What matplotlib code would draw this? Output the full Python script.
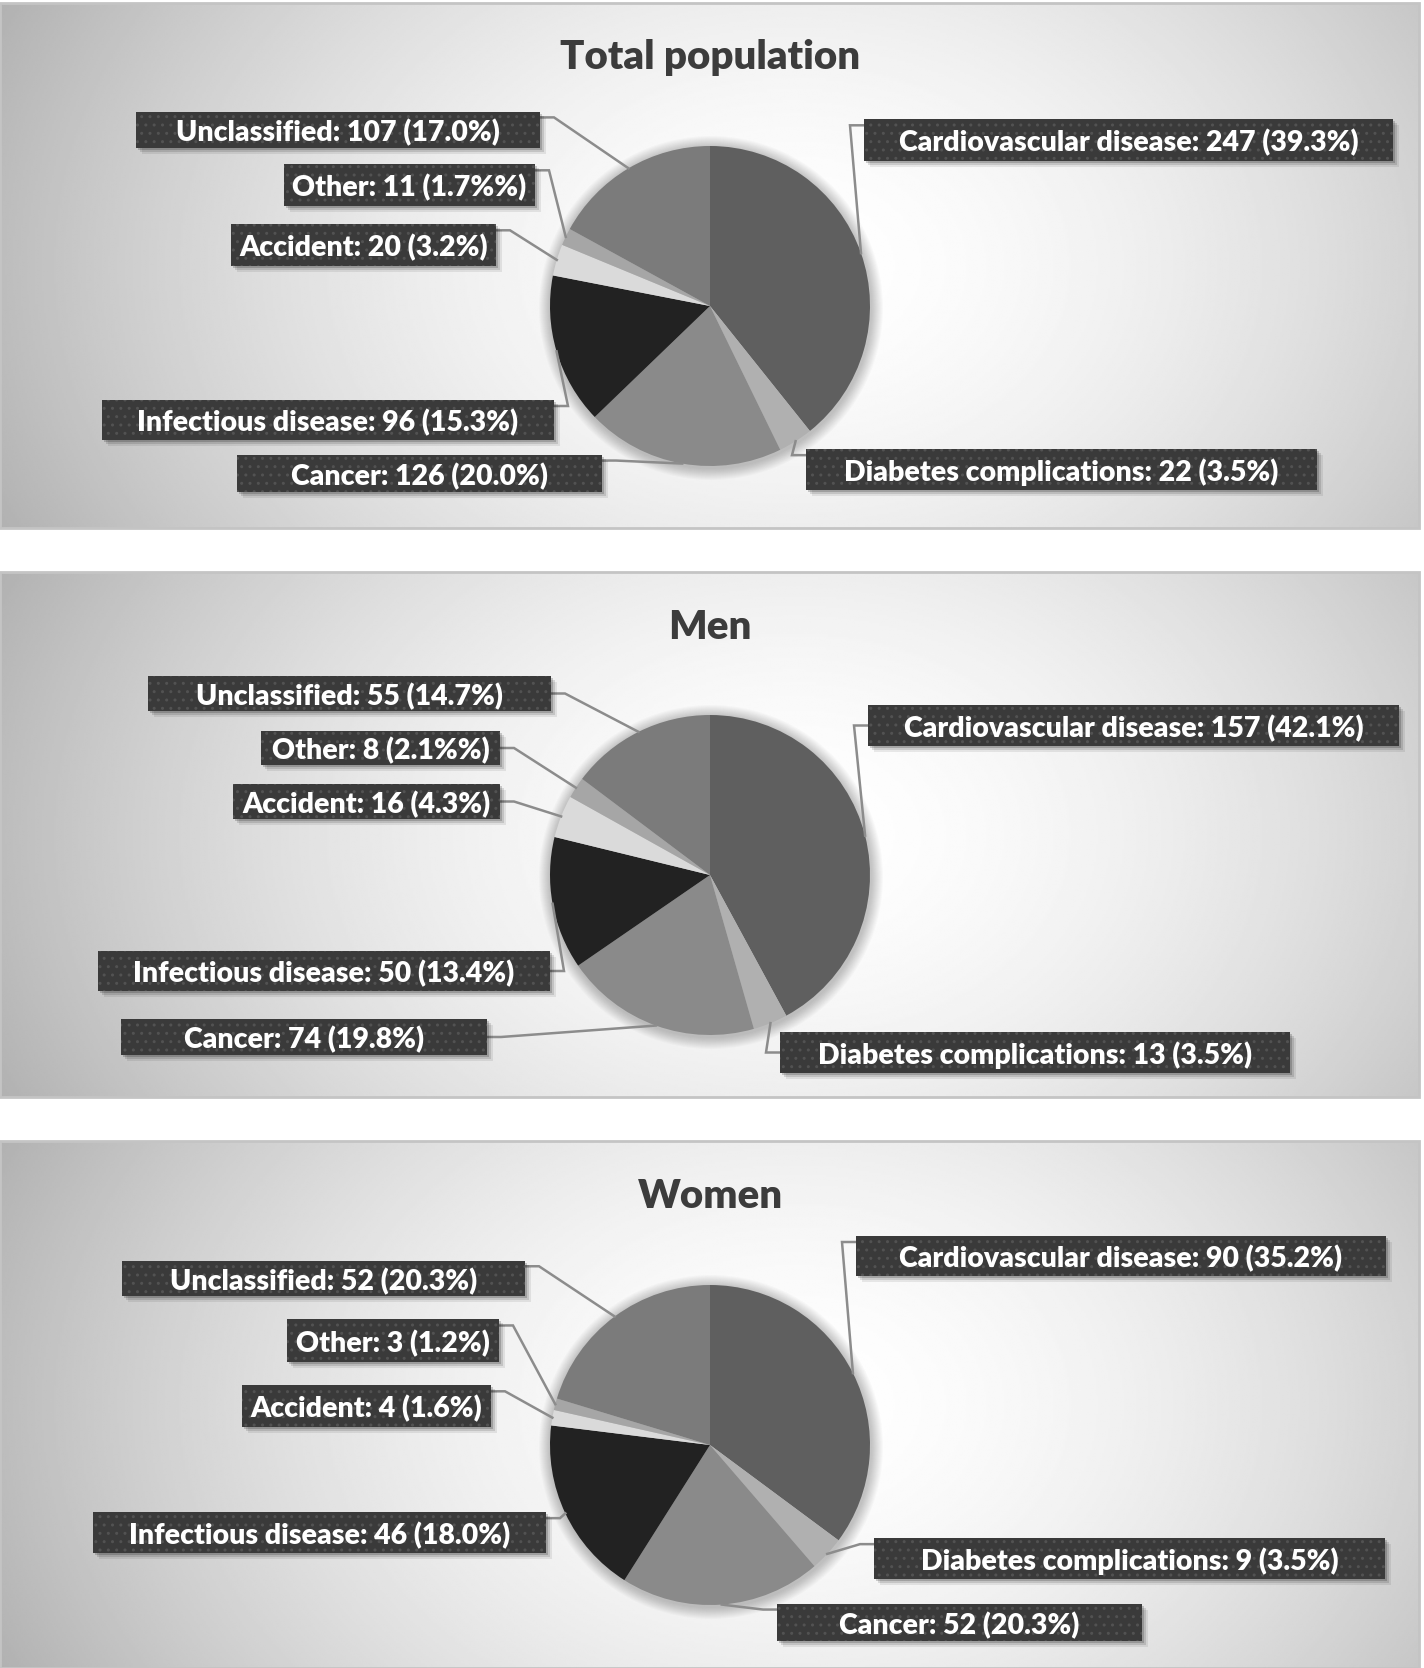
import numpy as np
import matplotlib
matplotlib.use("Agg")
import matplotlib.pyplot as plt
from matplotlib.patches import Rectangle, Circle

# ---------------- data ----------------
categories = ["Cardiovascular disease", "Diabetes complications", "Cancer",
              "Infectious disease", "Accident", "Other", "Unclassified"]
panel_titles = ["Total population", "Men", "Women"]
total_counts = [247, 22, 126, 96, 20, 11, 107]
total_pcts = ["39.3%", "3.5%", "20.0%", "15.3%", "3.2%", "1.7%%", "17.0%"]
men_counts = [157, 13, 74, 50, 16, 8, 55]
men_pcts = ["42.1%", "3.5%", "19.8%", "13.4%", "4.3%", "2.1%%", "14.7%"]
women_counts = [90, 9, 52, 46, 4, 3, 52]
women_pcts = ["35.2%", "3.5%", "20.3%", "18.0%", "1.6%", "1.2%", "20.3%"]

# ---------------- style / layout ----------------
slice_colors = ["#5f5f5f", "#b0b0b0", "#8a8a8a", "#222222", "#dadada", "#a6a6a6", "#7b7b7b"]
plt.rcParams['font.family'] = ['Lato', 'DejaVu Sans']
plt.rcParams['hatch.linewidth'] = 1.0

W, H = 1424, 1668
PANEL_W = 1419
panels = [(3, 528), (572, 1097), (1141, 1668)]
pie_centers = [(710, 306), (710, 875), (710, 1445)]
R = 160
title_y = [57, 627, 1196]
attach_frac = [0.15, 0.5, 0.15]
TEXT_DY = 3
# boxes (x0, x1, y0, y1, side of box the leader attaches to), category order
boxes = [
    [(864, 1393, 119, 161, 'L'), (806, 1317, 449, 490, 'L'), (237, 602, 455, 492, 'R'),
     (102, 554, 400, 440, 'R'), (231, 496, 224, 266, 'R'), (284, 535, 164, 206, 'R'),
     (136, 540, 112, 148, 'R')],
    [(868, 1399, 705, 746, 'L'), (780, 1290, 1032, 1073, 'L'), (121, 487, 1019, 1055, 'R'),
     (98, 550, 951, 991, 'R'), (233, 500, 784, 819, 'R'), (261, 500, 731, 765, 'R'),
     (148, 551, 676, 711, 'R')],
    [(856, 1386, 1236, 1276, 'L'), (874, 1385, 1538, 1579, 'L'), (777, 1142, 1604, 1641, 'L'),
     (93, 546, 1512, 1553, 'R'), (242, 491, 1385, 1427, 'R'), (287, 499, 1319, 1362, 'R'),
     (122, 525, 1261, 1296, 'R')],
]

all_counts = [total_counts, men_counts, women_counts]
all_pcts = [total_pcts, men_pcts, women_pcts]

fig = plt.figure(figsize=(W / 100, H / 100), dpi=100)
ax = fig.add_axes([0, 0, 1, 1])


def Y(y):
    return H - y


for p, (top, bot) in enumerate(panels):
    # background radial gradient
    ny, nx = 240, 700
    xs = np.linspace(0, PANEL_W, nx)
    ys = np.linspace(top, bot, ny)
    XX, YY = np.meshgrid(xs, ys)
    gcx = PANEL_W * 0.56
    gcy = (top + bot) / 2
    d = np.sqrt(((XX - gcx) / (PANEL_W * 0.56)) ** 2 + ((YY - gcy) / ((bot - top) * 1.1)) ** 2)
    v = 1 - 0.26 * np.clip(d, 0, 1.4) ** 1.7
    ax.imshow(v, cmap='gray', vmin=0, vmax=1, extent=(0, PANEL_W, Y(bot), Y(top)),
              origin='upper', interpolation='bilinear', zorder=0, aspect='auto')
    ax.add_patch(Rectangle((0, Y(bot)), PANEL_W, bot - top, fill=False,
                           ec='#c4c4c4', lw=2, zorder=1))

    # title
    ax.text(710, Y(title_y[p]), panel_titles[p], ha='center', va='center',
            fontsize=29, fontweight='heavy', color='#3c3c3c', zorder=5)

    cx, cy = pie_centers[p]
    # soft pie shadow
    for k in range(12, 0, -1):
        ax.add_patch(Circle((cx + 1, Y(cy) - 2), R + k, color='#000000', alpha=0.02,
                            lw=0, zorder=2))

    wedges, _ = ax.pie(all_counts[p], colors=slice_colors, startangle=90,
                       counterclock=False, center=(cx, Y(cy)), radius=R, frame=True,
                       wedgeprops=dict(linewidth=0))
    for w in wedges:
        w.set_zorder(3)

    for i, w in enumerate(wedges):
        x0, x1, y0, y1, side = boxes[p][i]
        th = np.deg2rad((w.theta1 + w.theta2) / 2)
        px = cx + R * np.cos(th)
        py = Y(cy) + R * np.sin(th)
        ay = Y(y0 + attach_frac[p] * (y1 - y0))
        if side == 'R':
            sx, ex = x1, x1 + 14
        else:
            sx, ex = x0, x0 - 14
        ax.plot([sx, ex, px], [ay, ay, py], color='#8c8c8c', lw=1.8, zorder=4,
                solid_joinstyle='miter')

        bw, bh = x1 - x0, y1 - y0
        # box shadow
        for k, a in [(6, 0.08), (4, 0.12), (2, 0.18)]:
            ax.add_patch(Rectangle((x0 + k, Y(y1) - k), bw, bh, color='#000000',
                                   alpha=a, lw=0, zorder=5))
        ax.add_patch(Rectangle((x0, Y(y1)), bw, bh, facecolor='#3a3a3a',
                               edgecolor='#525252', hatch='..', lw=0, zorder=6))
        label = f"{categories[i]}: {all_counts[p][i]} ({all_pcts[p][i]})"
        ax.text((x0 + x1) / 2, Y((y0 + y1) / 2 + TEXT_DY), label, ha='center', va='center',
                fontsize=20.5, fontweight='heavy', color='white', zorder=7)

ax.set_xlim(0, W)
ax.set_ylim(0, H)
ax.set_aspect('auto')
ax.set_axis_off()
fig.savefig("out.png", dpi=100, facecolor='white')
